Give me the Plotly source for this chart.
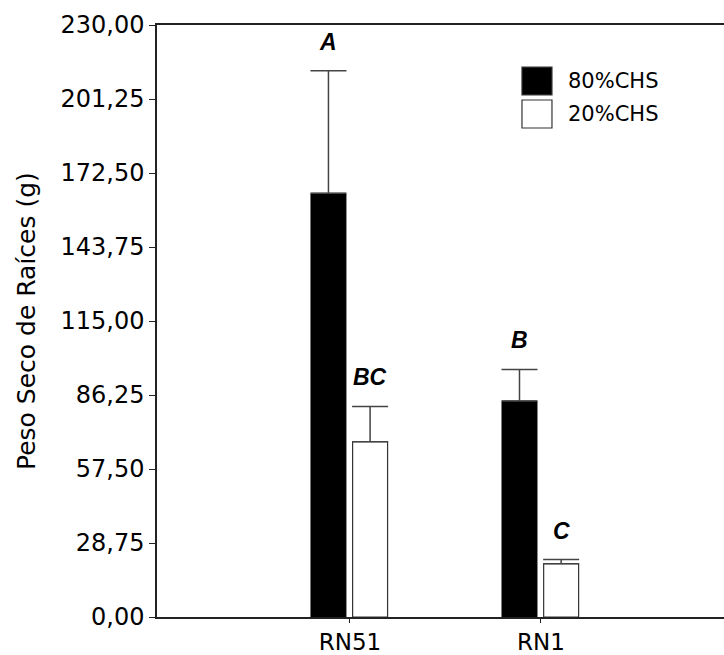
import plotly.graph_objects as go

# Root dry weight per genotype and substrate treatment
genotypes = ["RN51", "RN1"]
series_names = ["80%CHS", "20%CHS"]
mean_80 = [164.6, 83.9]
err_80 = [47.6, 12.3]
mean_20 = [68.1, 20.7]
err_20 = [13.7, 1.6]
letters_80 = ["A", "B"]
letters_20 = ["BC", "C"]

tick_vals = [0, 28.75, 57.5, 86.25, 115, 143.75, 172.5, 201.25, 230]
tick_text = ["0,00", "28,75", "57,50", "86,25", "115,00", "143,75", "172,50", "201,25", "230,00"]

FONT = "DejaVu Sans"
BAR_W = 0.183

fig = go.Figure()

fig.add_trace(go.Bar(
    x=genotypes, y=mean_80, name=series_names[0],
    width=BAR_W, offset=-0.204,
    marker=dict(color="black", line=dict(color="black", width=1)),
    error_y=dict(type="data", array=err_80, arrayminus=[0] * len(err_80),
                 symmetric=False, color="#444444", thickness=1.5, width=18),
    showlegend=False,
))
fig.add_trace(go.Bar(
    x=genotypes, y=mean_20, name=series_names[1],
    width=BAR_W, offset=0.014,
    marker=dict(color="white", line=dict(color="#333333", width=1.2)),
    error_y=dict(type="data", array=err_20, arrayminus=[0] * len(err_20),
                 symmetric=False, color="#444444", thickness=1.5, width=18),
    showlegend=False,
))

# Significance letters above each error bar
centers_80 = [i - 0.204 + BAR_W / 2 for i in range(len(genotypes))]
centers_20 = [i + 0.014 + BAR_W / 2 for i in range(len(genotypes))]
for cx, m, e, lt in zip(centers_80 + centers_20, mean_80 + mean_20,
                        err_80 + err_20, letters_80 + letters_20):
    fig.add_annotation(x=cx, y=m + e, xref="x", yref="y", text=f"<b><i>{lt}</i></b>",
                       showarrow=False, yanchor="middle", yshift=29,
                       font=dict(family="Liberation Sans", size=23, color="black"))

# Hand-drawn legend boxes
legend_boxes = [
    dict(y0=0.8818, y1=0.929, fill="black"),
    dict(y0=0.826, y1=0.8733, fill="white"),
]
for name, box in zip(series_names, legend_boxes):
    fig.add_shape(type="rect", xref="paper", yref="paper",
                  x0=0.6437, x1=0.6966, y0=box["y0"], y1=box["y1"],
                  fillcolor=box["fill"], line=dict(color="#333333", width=1.2))
    fig.add_annotation(xref="paper", yref="paper", x=0.722, y=(box["y0"] + box["y1"]) / 2,
                       text=name, showarrow=False, xanchor="left", yanchor="middle",
                       font=dict(family=FONT, size=21, color="black"))

# Y-axis title
fig.add_annotation(xref="paper", yref="paper", x=0, y=0.5, xshift=-131,
                   text="Peso Seco de Raíces (g)", textangle=-90, showarrow=False,
                   xanchor="center", yanchor="middle",
                   font=dict(family=FONT, size=25, color="black"))

fig.update_layout(
    width=724, height=655,
    margin=dict(l=157, r=0, t=25, b=38),
    paper_bgcolor="white", plot_bgcolor="white",
    barmode="overlay",
    font=dict(family=FONT, color="black"),
)
fig.update_xaxes(
    range=[-1.01, 1.958], showgrid=False, zeroline=False, automargin=False,
    showline=True, linecolor="#222222", linewidth=1.5, mirror=True,
    ticks="outside", ticklen=4, tickcolor="#222222",
    tickfont=dict(family=FONT, size=23, color="black"),
)
fig.update_yaxes(
    range=[0, 230], showgrid=False, zeroline=False, automargin=False,
    showline=True, linecolor="#222222", linewidth=1.5,
    ticks="outside", ticklen=6, tickcolor="#222222",
    tickvals=tick_vals, ticktext=tick_text,
    tickfont=dict(family=FONT, size=24, color="black"),
)

fig.write_html("out.html")
